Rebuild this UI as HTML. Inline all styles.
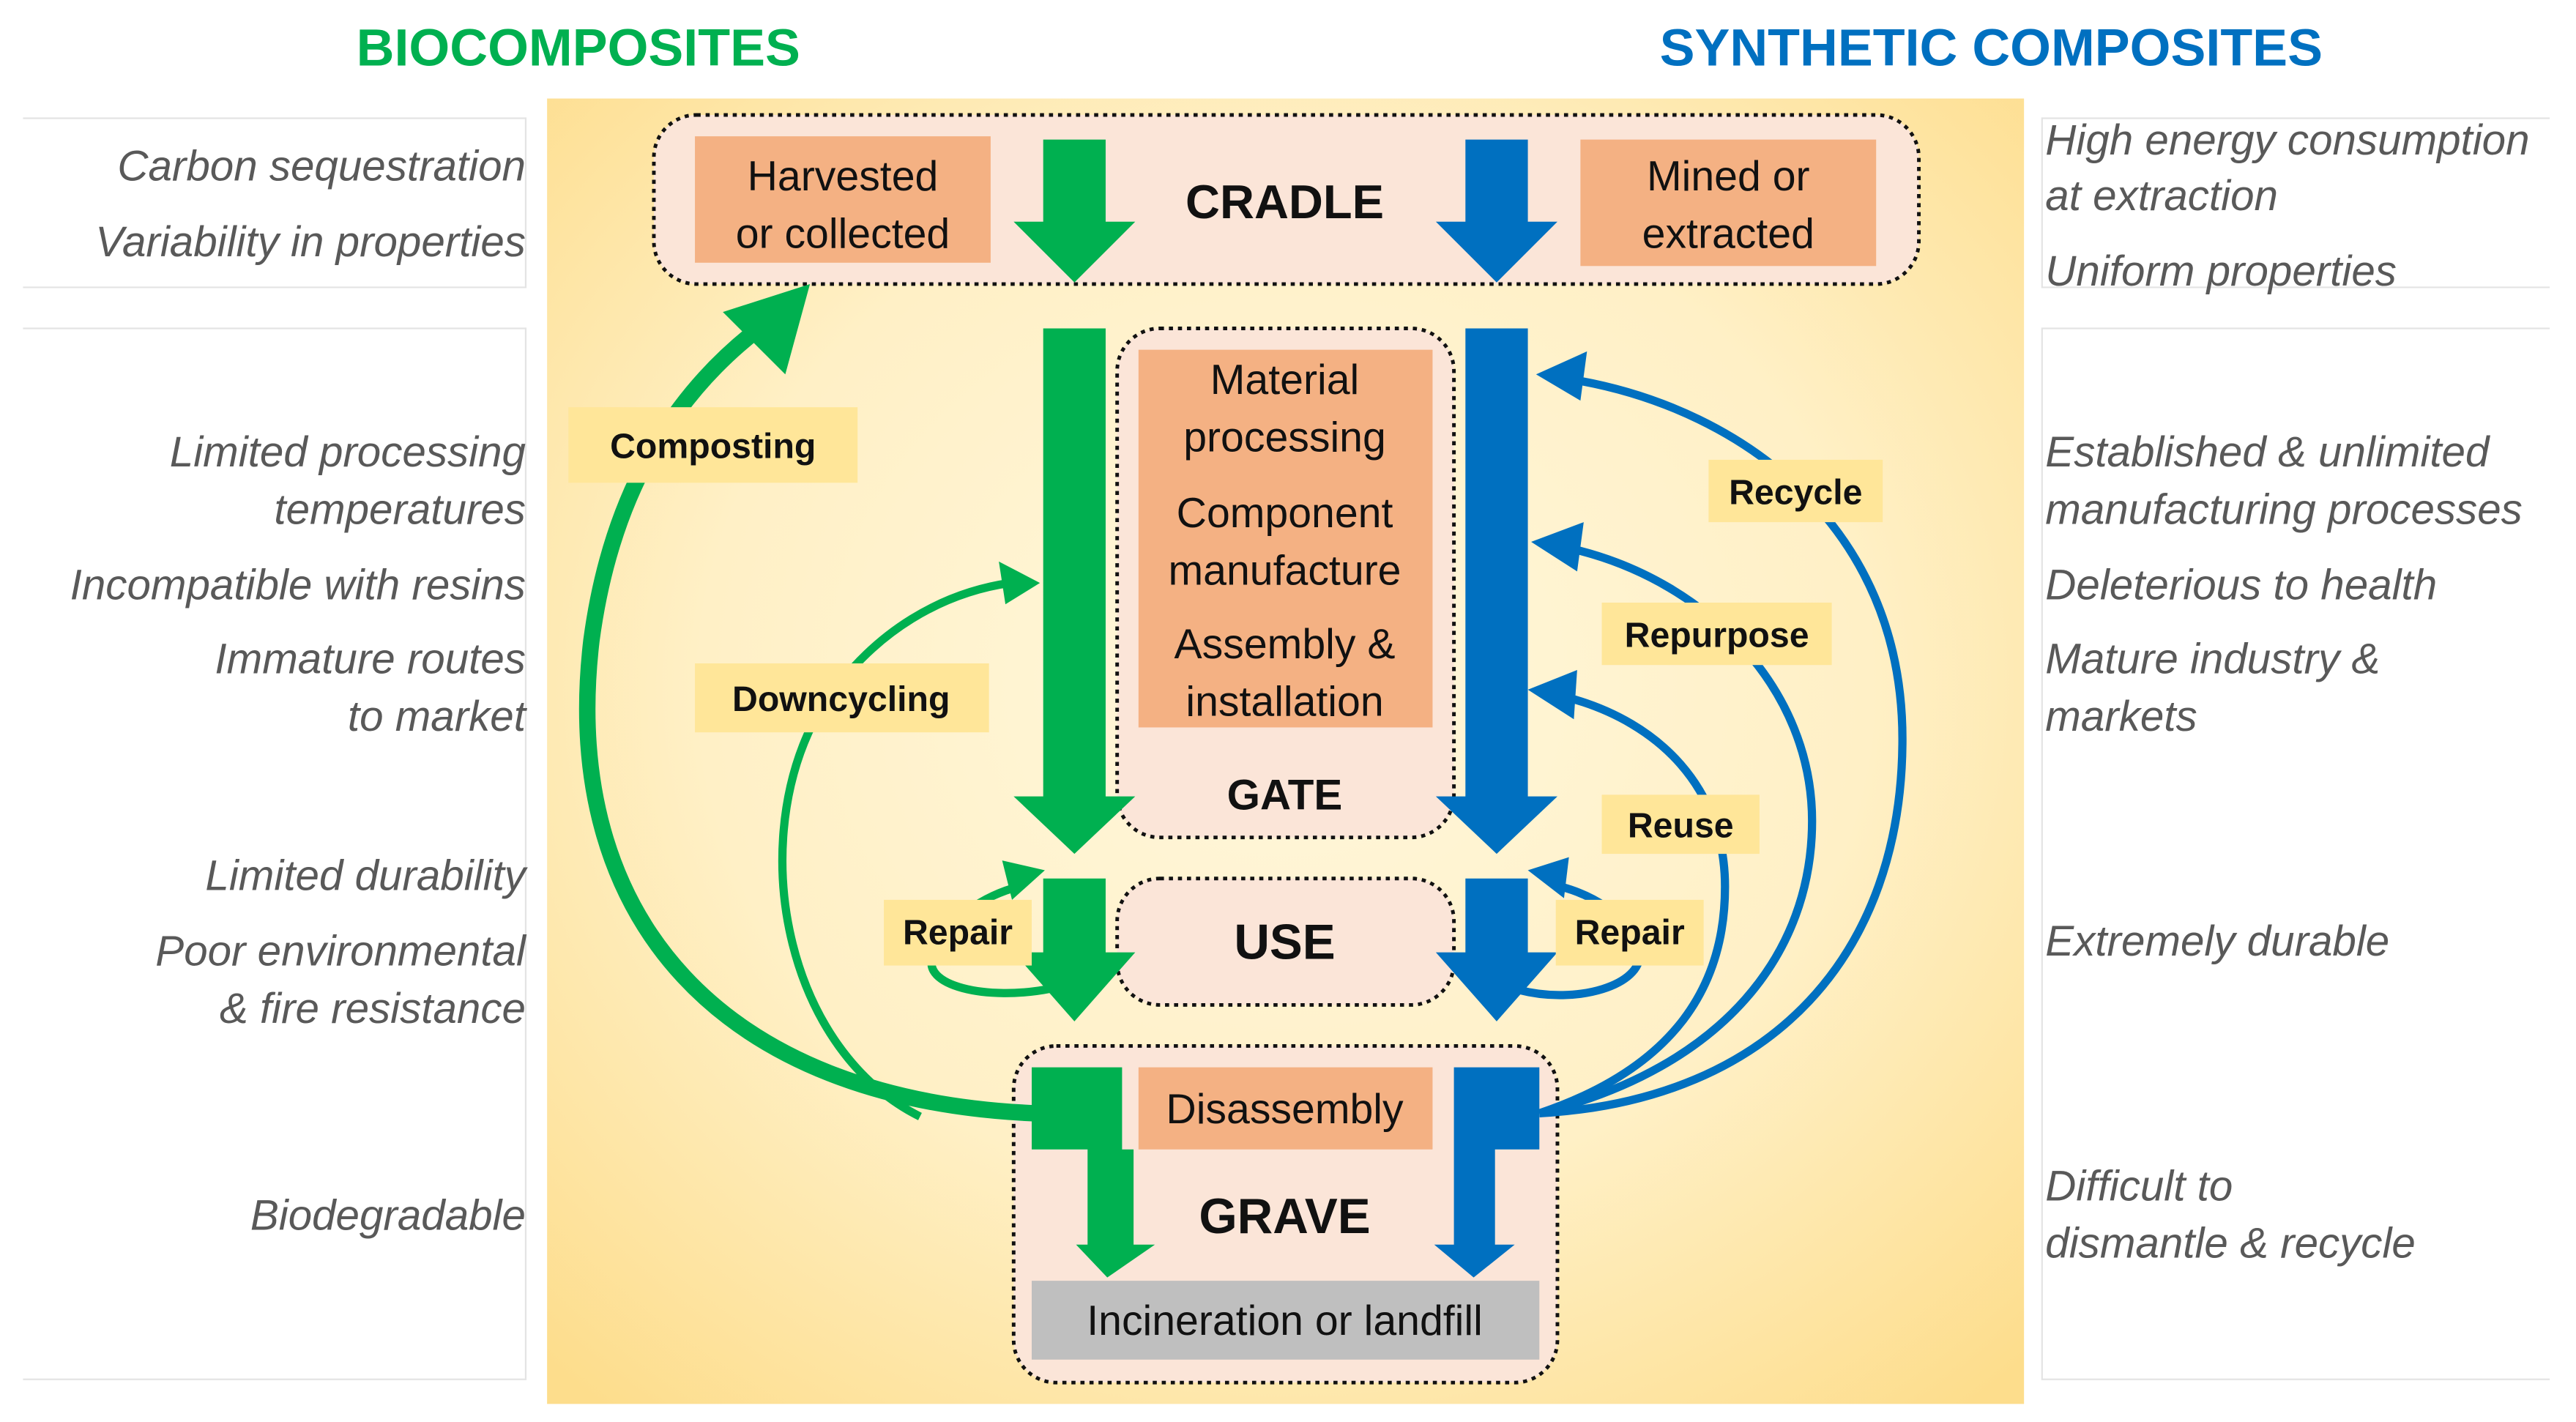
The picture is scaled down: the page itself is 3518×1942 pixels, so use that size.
<!DOCTYPE html>
<html><head><meta charset="utf-8"><style>
html,body{margin:0;padding:0;background:#fff;}
svg{display:block;}
text{font-family:"Liberation Sans",sans-serif;}
.it{font-style:italic;fill:#595959;font-size:26px;}
.n{font-size:25.5px;fill:#111;}
.b{font-weight:bold;fill:#111;}
.lb{font-weight:bold;font-size:21.5px;fill:#111;}
</style></head><body>
<svg width="3518" height="1942" viewBox="0 0 1568 866" preserveAspectRatio="none" xmlns="http://www.w3.org/2000/svg">
<defs>
<radialGradient id="bg" cx="0.5" cy="0.45" r="0.72">
<stop offset="0" stop-color="#fff7dc"/><stop offset="0.55" stop-color="#fff0c6"/><stop offset="1" stop-color="#fddd8c"/>
</radialGradient>
</defs>
<rect width="1568" height="866" fill="#fff"/>
<g fill="none" stroke="#e4e4e4" stroke-width="1">
<path d="M14 72H320V175H14"/><path d="M14 200H320V840H14"/>
<path d="M1552 72H1243V175H1552"/><path d="M1552 200H1243V840H1552"/>
</g>
<text x="352" y="40" text-anchor="middle" font-weight="bold" font-size="32" fill="#00b050">BIOCOMPOSITES</text>
<text x="1212" y="40" text-anchor="middle" font-weight="bold" font-size="32" fill="#0070c0">SYNTHETIC COMPOSITES</text>
<rect x="333" y="60" width="899" height="795" fill="url(#bg)"/>
<g class="it" text-anchor="end">
<text x="320" y="110">Carbon sequestration</text>
<text x="320" y="156">Variability in properties</text>
<text x="320" y="284">Limited processing</text>
<text x="320" y="319">temperatures</text>
<text x="320" y="365">Incompatible with resins</text>
<text x="320" y="410">Immature routes</text>
<text x="320" y="445">to market</text>
<text x="320" y="542">Limited durability</text>
<text x="320" y="588">Poor environmental</text>
<text x="320" y="623">&amp; fire resistance</text>
<text x="320" y="749">Biodegradable</text>
</g>
<g class="it">
<text x="1245" y="94">High energy consumption</text>
<text x="1245" y="128">at extraction</text>
<text x="1245" y="174">Uniform properties</text>
<text x="1245" y="284">Established &amp; unlimited</text>
<text x="1245" y="319">manufacturing processes</text>
<text x="1245" y="365">Deleterious to health</text>
<text x="1245" y="410">Mature industry &amp;</text>
<text x="1245" y="445">markets</text>
<text x="1245" y="582">Extremely durable</text>
<text x="1245" y="731">Difficult to</text>
<text x="1245" y="766">dismantle &amp; recycle</text>
</g>
<g fill="#fbe5d8" stroke="#111" stroke-width="2.2" stroke-dasharray="2.5 3">
<rect x="398" y="70" width="770" height="103" rx="26"/>
<rect x="680" y="200" width="205" height="310" rx="26"/>
<rect x="680" y="535" width="205" height="77" rx="26"/>
<rect x="617" y="637" width="331" height="205" rx="26"/>
</g>
<rect x="423" y="83" width="180" height="77" fill="#f4b183"/>
<rect x="962" y="85" width="180" height="77" fill="#f4b183"/>
<rect x="693" y="213" width="179" height="230" fill="#f4b183"/>
<rect x="693" y="650" width="179" height="50" fill="#f4b183"/>
<rect x="628" y="780" width="309" height="48" fill="#bfbfbf"/>
<g class="n" text-anchor="middle">
<text x="513" y="116">Harvested</text><text x="513" y="151">or collected</text>
<text x="1052" y="116">Mined or</text><text x="1052" y="151">extracted</text>
<text x="782" y="240">Material</text><text x="782" y="275">processing</text>
<text x="782" y="321">Component</text><text x="782" y="356">manufacture</text>
<text x="782" y="401">Assembly &amp;</text><text x="782" y="436">installation</text>
<text x="782" y="684">Disassembly</text>
<text x="782" y="813">Incineration or landfill</text>
</g>
<g class="b" text-anchor="middle">
<text x="782" y="133" font-size="29">CRADLE</text>
<text x="782" y="493" font-size="26">GATE</text>
<text x="782" y="584" font-size="30">USE</text>
<text x="782" y="751" font-size="30">GRAVE</text>
</g>
<g fill="none" stroke="#00b050">
<path d="M630 678 C440 670 340 560 360 390 C372 300 410 240 462 200" stroke-width="10"/>
<path d="M560 680 C480 640 455 520 495 440 C530 380 580 360 615 355" stroke-width="5"/>
<path d="M640 602 C600 610 560 600 568 582 C575 560 600 545 620 540" stroke-width="5"/>
</g>
<g fill="#00b050">
<polygon points="493,173 440,190 478,228"/>
<polygon points="633,355 608,342 612,368"/>
<polygon points="636,530 610,524 616,548"/>
<polygon points="635,85 673,85 673,135 691,135 654,172 617,135 635,135"/>
<polygon points="635,200 673,200 673,485 691,485 654,520 617,485 635,485"/>
<polygon points="635,535 673,535 673,580 691,580 654,622 617,580 635,580"/>
<polygon points="628,650 683,650 683,700 690,700 690,758 703,758 674,778 655,758 662,758 662,700 628,700"/>
</g>
<g fill="none" stroke="#0070c0" stroke-width="5">
<path d="M937 678 C1080 670 1158 580 1158 450 C1158 320 1060 250 962 232"/>
<path d="M937 678 C1050 650 1103 580 1103 500 C1103 420 1040 355 960 335"/>
<path d="M937 678 C1020 650 1050 600 1050 540 C1050 480 1010 440 955 425"/>
<path d="M925 603 C960 612 1000 600 998 580 C995 560 970 545 950 540"/>
</g>
<g fill="#0070c0">
<polygon points="935,228 966,214 962,244"/>
<polygon points="932,330 964,318 960,348"/>
<polygon points="930,420 960,408 958,438"/>
<polygon points="930,530 955,522 952,547"/>
<polygon points="892,85 930,85 930,135 948,135 911,172 874,135 892,135"/>
<polygon points="892,200 930,200 930,485 948,485 911,520 874,485 892,485"/>
<polygon points="892,535 930,535 930,580 948,580 911,622 874,580 892,580"/>
<polygon points="885,650 937,650 937,700 910,700 910,758 922,758 897,778 873,758 885,758"/>
</g>
<g fill="#ffe699">
<rect x="346" y="248" width="176" height="46"/>
<rect x="423" y="404" width="179" height="42"/>
<rect x="538" y="548" width="90" height="40"/>
<rect x="1040" y="280" width="106" height="38"/>
<rect x="975" y="367" width="140" height="38"/>
<rect x="975" y="484" width="96" height="36"/>
<rect x="947" y="548" width="90" height="40"/>
</g>
<g class="lb" text-anchor="middle">
<text x="434" y="279">Composting</text>
<text x="512" y="433">Downcycling</text>
<text x="583" y="575">Repair</text>
<text x="1093" y="307">Recycle</text>
<text x="1045" y="394">Repurpose</text>
<text x="1023" y="510">Reuse</text>
<text x="992" y="575">Repair</text>
</g>
</svg>
</body></html>
